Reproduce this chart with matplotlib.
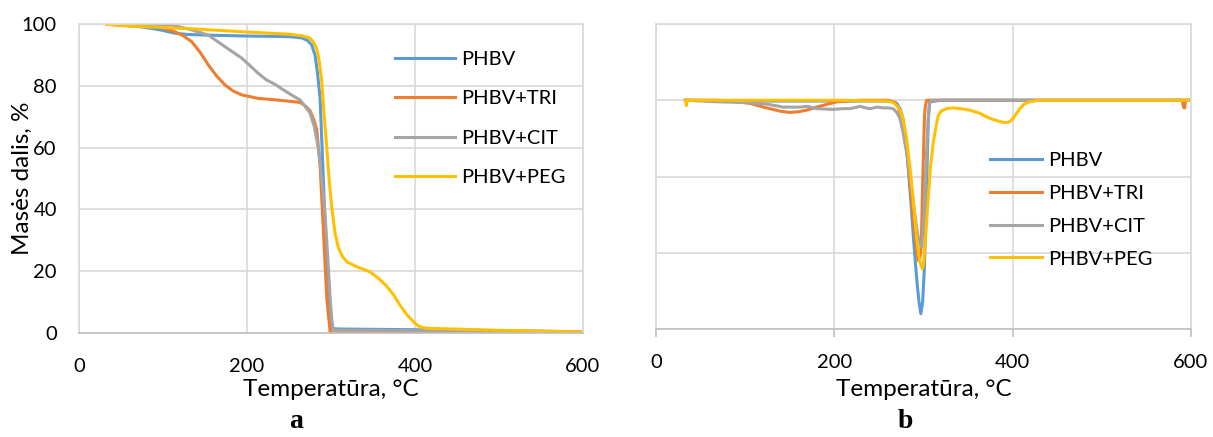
import numpy as np
import matplotlib.pyplot as plt

plt.rcParams['font.family'] = ['Lato', 'DejaVu Sans']

# TGA: mass fraction (%) vs temperature (C)
t_phbv = [33, 50, 70, 86, 100, 114, 130, 150, 200, 250, 265, 272, 277, 281, 284, 287, 291, 295, 298, 299.6, 301, 320, 400, 500, 600]
m_phbv = [100, 99.8, 99.3, 98.7, 98.0, 97.1, 96.7, 96.5, 96.2, 96.0, 95.6, 94.8, 93.3, 90, 84, 76, 49, 22, 6, 1.5, 1.3, 1.2, 1.0, 0.7, 0.3]

t_tri = [33, 60, 86, 100, 114, 124, 134, 144, 154, 164, 174, 184, 194, 213, 230, 249, 260, 265, 270, 275, 279, 283, 287, 291, 295, 299, 302, 350, 445]
m_tri = [100, 99.7, 99.4, 98.8, 97.6, 96.3, 94.4, 91, 86.8, 83.2, 80.3, 78.3, 77.1, 76, 75.6, 75.1, 74.8, 74.4, 73.4, 72, 69.5, 66, 54.4, 32.8, 11, 0.2, 0, 0, 0]

t_cit = [33, 60, 86, 110, 130, 154, 174, 194, 213, 223, 233, 243, 253, 263, 269, 275, 280, 285, 289, 293, 296, 299, 301, 303, 350, 450, 600]
m_cit = [100, 100, 100, 99.8, 98.5, 96.5, 92.7, 89, 84.2, 82, 80.6, 78.8, 77.1, 75.5, 73.5, 71.2, 67, 59.8, 50, 38.2, 25, 11, 4, 0.9, 0.8, 0.6, 0.4]

t_peg = [33, 60, 100, 150, 200, 250, 265, 272, 275, 279, 283, 286, 289, 292, 295, 298, 301, 305, 309, 314, 319, 330, 346, 356, 365, 374, 382, 390, 398, 404, 410, 420, 450, 500, 600]
m_peg = [100, 99.4, 99, 98.3, 97.5, 96.8, 96.3, 95.8, 95.5, 94.3, 92.2, 88, 81.4, 70, 59.8, 49, 40.4, 32, 27.4, 24.6, 23, 21.5, 19.8, 17.8, 15.5, 12.5, 9, 6, 3.6, 2.2, 1.6, 1.4, 1.2, 0.8, 0.3]

# DTG curves
dt_phbv = [33, 100, 200, 260, 266, 270, 274, 277, 280, 283, 286, 288.5, 291, 293, 295, 297, 299, 301, 302.5, 303.5, 305.4, 307, 320, 400, 598]
d_phbv = [0, -0.01, -0.01, -0.01, -0.02, -0.04, -0.12, -0.24, -0.5, -0.9, -1.35, -1.77, -2.15, -2.42, -2.65, -2.8, -2.65, -2.2, -1.6, -1.11, -0.24, -0.02, 0, 0, 0]

dt_tri = [33, 68, 90, 105, 124, 140, 150, 160, 169, 180, 188, 203, 230, 260, 268, 272, 276, 279, 282, 285, 288, 290.5, 292.5, 294, 295.5, 297, 298, 299, 300, 301, 302, 303.5, 310, 400, 590, 592, 593, 594, 598]
d_tri = [0, 0, -0.02, -0.04, -0.1, -0.145, -0.16, -0.15, -0.13, -0.09, -0.065, -0.02, 0, 0, -0.03, -0.1, -0.28, -0.46, -0.75, -1.11, -1.5, -1.77, -2.0, -2.1, -2.1, -1.99, -1.65, -1.11, -0.7, -0.24, -0.08, 0, 0, 0, 0, -0.1, -0.1, 0, 0]

dt_cit = [33, 68, 100, 124, 143, 161, 170, 180, 199, 210, 218, 229, 235, 240, 248, 255, 260, 266, 270, 273.6, 277, 281, 285, 288.5, 292, 295, 298, 300.5, 302, 303.5, 305, 306.5, 309, 400, 598]
d_cit = [0, -0.02, -0.03, -0.05, -0.09, -0.09, -0.08, -0.11, -0.12, -0.11, -0.11, -0.08, -0.1, -0.11, -0.09, -0.1, -0.1, -0.11, -0.16, -0.24, -0.42, -0.68, -1.0, -1.33, -1.65, -1.86, -1.92, -1.55, -1.1, -0.68, -0.3, -0.05, 0, 0, 0]

dt_peg = [33, 34, 35, 60, 100, 200, 260, 266, 270, 274, 277, 281, 285, 288.5, 292, 294, 296, 298.7, 300, 301.7, 303.5, 305.4, 308, 311, 314, 316.6, 320, 326, 333, 341, 352, 363, 371, 380, 389.5, 395, 399, 404, 408, 413, 419, 430, 500, 599]
d_peg = [0, -0.07, 0, 0, 0, 0, -0.01, -0.03, -0.07, -0.14, -0.24, -0.5, -0.9, -1.3, -1.77, -1.97, -2.12, -2.21, -2.15, -1.9, -1.6, -1.25, -0.85, -0.55, -0.35, -0.2, -0.14, -0.11, -0.1, -0.11, -0.13, -0.17, -0.22, -0.26, -0.29, -0.29, -0.26, -0.18, -0.11, -0.05, -0.02, 0, 0, 0]

labels = ['PHBV', 'PHBV+TRI', 'PHBV+CIT', 'PHBV+PEG']
colors = ['#5B9BD5', '#ED7D31', '#A5A5A5', '#FFC000']
grid_c = '#D9D9D9'
axis_c = '#BFBFBF'
fs = 14.5
fs_title = 17.5

fig = plt.figure(figsize=(12.13, 4.37), dpi=100)
ax1 = fig.add_axes([79 / 1213, 1 - 332.8 / 437, 504 / 1213, 308.5 / 437])
ax2 = fig.add_axes([656 / 1213, 1 - 329 / 437, 535 / 1213, 305 / 437])

tga = [(t_phbv, m_phbv), (t_tri, m_tri), (t_cit, m_cit), (t_peg, m_peg)]
dtg = [(dt_phbv, d_phbv), (dt_tri, d_tri), (dt_cit, d_cit), (dt_peg, d_peg)]

for (x, y), c, lab in zip(tga, colors, labels):
    ax1.plot(x, y, color=c, lw=2.2, label=lab, solid_joinstyle='round')
for (x, y), c, lab in zip(dtg, colors, labels):
    ax2.plot(x, y, color=c, lw=2.2, label=lab, solid_joinstyle='round')

# left panel
ax1.set_xlim(0, 600)
ax1.set_ylim(0, 100)
ax1.set_xticks([0, 200, 400, 600])
ax1.set_yticks([0, 20, 40, 60, 80, 100])
ax1.grid(True, color=grid_c, lw=1.2)
ax1.set_axisbelow(True)
for s in ['top', 'left', 'right']:
    ax1.spines[s].set_color(grid_c)
    ax1.spines[s].set_linewidth(1.2)
ax1.spines['bottom'].set_color(axis_c)
ax1.spines['bottom'].set_linewidth(1.2)
ax1.tick_params(axis='x', length=0, pad=18, labelsize=fs)
ax1.tick_params(axis='y', length=0, pad=16, labelsize=fs)
ax1.set_xlabel('Temperatūra, °C', fontsize=fs_title)
ax1.xaxis.set_label_coords(0.5, -0.15)
ax1.set_ylabel('Masės dalis, %', fontsize=fs_title)
ax1.yaxis.set_label_coords(-0.092, 0.5)
ax1.legend(loc='upper left', bbox_to_anchor=(395 / 1213, 1 - 51 / 437), bbox_transform=fig.transFigure,
           frameon=False, fontsize=fs, handlelength=3.0, handletextpad=0.3, labelspacing=1.1,
           borderaxespad=0, borderpad=0)

# right panel
ax2.set_xlim(0, 600)
ax2.set_ylim(-3, 1)
ax2.set_xticks([0, 200, 400, 600])
ax2.set_yticks([-3, -2, -1, 0, 1])
ax2.set_yticklabels([])
ax2.grid(True, color=grid_c, lw=1.2)
ax2.set_axisbelow(True)
for s in ['top', 'left', 'right']:
    ax2.spines[s].set_color(grid_c)
    ax2.spines[s].set_linewidth(1.2)
ax2.spines['bottom'].set_color(axis_c)
ax2.spines['bottom'].set_linewidth(1.2)
ax2.tick_params(axis='x', length=6, width=1.2, color=axis_c, pad=12, labelsize=fs)
ax2.tick_params(axis='y', length=0)
ax2.set_xlabel('Temperatūra, °C', fontsize=fs_title)
ax2.xaxis.set_label_coords(0.5, -0.165)
ax2.legend(loc='upper left', bbox_to_anchor=(990 / 1213, 1 - 152 / 437), bbox_transform=fig.transFigure,
           frameon=False, fontsize=fs, handlelength=2.6, handletextpad=0.3, labelspacing=0.78,
           borderaxespad=0, borderpad=0)

fig.text(296 / 1213, 1 - 422 / 437, 'a', family='Liberation Serif', weight='bold', fontsize=20,
         ha='center', va='center')
fig.text(905 / 1213, 1 - 422 / 437, 'b', family='Liberation Serif', weight='bold', fontsize=20,
         ha='center', va='center')

fig.savefig('out.png', dpi=100)
